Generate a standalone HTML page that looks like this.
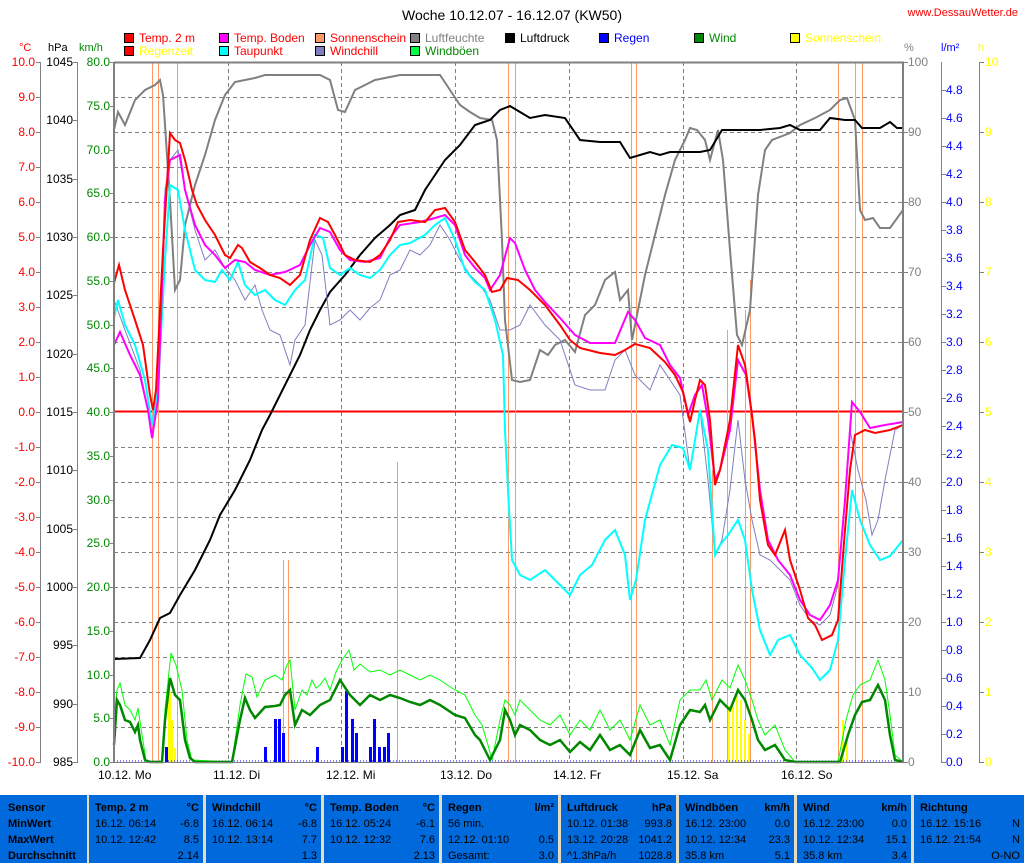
<!DOCTYPE html>
<html><head><meta charset="utf-8"><style>
body{margin:0;width:1024px;height:863px;background:#fff;overflow:hidden;font-family:"Liberation Sans",sans-serif}
svg text{font-family:"Liberation Sans",sans-serif;font-size:12px}
#tbl{position:absolute;left:0;top:795px;width:1024px;height:68px;background:#e8dcc0}
.c{position:absolute;top:0;height:68px;background:#0069dc;font-size:11px;color:#000}
.c div{position:absolute;white-space:nowrap}
.b{font-weight:bold}
</style></head><body>
<svg width="1024" height="795" style="position:absolute;left:0;top:0">
<text x="512" y="20" text-anchor="middle" style="font-size:14px">Woche 10.12.07 - 16.12.07 (KW50)</text>
<text x="1018" y="16" text-anchor="end" fill="#f00" style="font-size:11px">www.DessauWetter.de</text>
<g stroke="#000" stroke-width="1">
<rect x="124.5" y="33.5" width="9" height="9" fill="#f00"/><rect x="124.5" y="46.5" width="9" height="9" fill="#f00"/>
<rect x="219.5" y="33.5" width="9" height="9" fill="#f0f"/><rect x="219.5" y="46.5" width="9" height="9" fill="#0ff"/>
<rect x="315.5" y="33.5" width="9" height="9" fill="#f96"/><rect x="315.5" y="46.5" width="9" height="9" fill="#7f7fbf"/>
<rect x="410.5" y="33.5" width="9" height="9" fill="#808080"/><rect x="410.5" y="46.5" width="9" height="9" fill="#0f4"/>
<rect x="505.5" y="33.5" width="9" height="9" fill="#000"/>
<rect x="599.5" y="33.5" width="9" height="9" fill="#00f"/>
<rect x="694.5" y="33.5" width="9" height="9" fill="#080"/>
<rect x="790.5" y="33.5" width="9" height="9" fill="#ff0"/>
</g>
<g style="font-size:11px">
<text x="139" y="42" fill="#f00">Temp. 2 m</text><text x="139" y="55" fill="#ff0">Regenzeit</text>
<text x="234" y="42" fill="#f00">Temp. Boden</text><text x="234" y="55" fill="#f00">Taupunkt</text>
<text x="330" y="42" fill="#f00">Sonnenschein</text><text x="330" y="55" fill="#f00">Windchill</text>
<text x="425" y="42" fill="#808080">Luftfeuchte</text><text x="425" y="55" fill="#080">Windböen</text>
<text x="520" y="42">Luftdruck</text>
<text x="614" y="42" fill="#00f">Regen</text>
<text x="709" y="42" fill="#080">Wind</text>
<text x="805" y="42" fill="#ff0">Sonnenschein</text>
</g>
<text x="19" y="51" fill="#f00" style="font-size:11px">°C</text>
<text x="48" y="51" style="font-size:11px">hPa</text>
<text x="79" y="51" fill="#080" style="font-size:11px">km/h</text>
<text x="904" y="51" fill="#808080" style="font-size:11px">%</text>
<text x="941" y="51" fill="#00f" style="font-size:11px">l/m²</text>
<text x="978" y="51" fill="#ff0" style="font-size:11px">h</text>
<g stroke="#808080" stroke-width="1">
<line x1="40.5" y1="62" x2="40.5" y2="762"/><line x1="77.5" y1="62" x2="77.5" y2="762"/>
<line x1="941.5" y1="62" x2="941.5" y2="762"/><line x1="979.5" y1="62" x2="979.5" y2="762"/>
</g>
<g id="ax"></g>
<g stroke="#808080" stroke-dasharray="4,3" stroke-width="1">
<path d="M114 97.5H904M114 132.5H904M114 167.5H904M114 202.5H904M114 237.5H904M114 272.5H904M114 307.5H904M114 342.5H904M114 377.5H904M114 447.5H904M114 482.5H904M114 517.5H904M114 552.5H904M114 587.5H904M114 622.5H904M114 657.5H904M114 692.5H904M114 727.5H904"/>
<path d="M228.5 62V762M341.5 62V762M455.5 62V762M569.5 62V762M683.5 62V762M796.5 62V762"/>
</g>
<line x1="114" y1="411.5" x2="904" y2="411.5" stroke="#f00" stroke-width="2"/>
<g stroke="#f96" stroke-width="1" fill="none" shape-rendering="crispEdges">
<path d="M152.5 762V62M158.5 762V62M177.5 762V62M283.5 762V560M288.5 762V560M397.5 762V462M508.5 762V62M515.5 762V62M631.5 762V62M636.5 762V62M712.5 762V470M727.5 762V330M745.5 762V310M750.5 762V280M838.5 762V62M855.5 762V62M862.5 762V62"/>
</g>
<g fill="#00f">
<rect x="165" y="747" width="3" height="15"/><rect x="264" y="747" width="3" height="15"/><rect x="274" y="719" width="3" height="43"/><rect x="278" y="719" width="3" height="43"/><rect x="282" y="733" width="3" height="29"/><rect x="316" y="747" width="3" height="15"/><rect x="341" y="747" width="3" height="15"/><rect x="345" y="691" width="3" height="71"/><rect x="351" y="719" width="3" height="43"/><rect x="355" y="733" width="3" height="29"/><rect x="369" y="747" width="3" height="15"/><rect x="373" y="719" width="3" height="43"/><rect x="378" y="747" width="3" height="15"/><rect x="383" y="747" width="3" height="15"/><rect x="387" y="733" width="3" height="29"/>
</g>
<g fill="#ff0">
<rect x="168" y="692" width="3" height="70"/><rect x="171" y="720" width="2" height="42"/><rect x="174" y="748" width="2" height="14"/>
<rect x="728" y="706" width="2" height="56"/><rect x="732" y="706" width="2" height="56"/><rect x="736" y="692" width="2" height="70"/><rect x="740" y="700" width="2" height="62"/><rect x="744" y="720" width="2" height="42"/><rect x="748" y="734" width="2" height="28"/>
<rect x="842" y="720" width="2" height="42"/><rect x="846" y="740" width="2" height="22"/>
</g>
<line x1="114" y1="761" x2="904" y2="761" stroke="#00f" stroke-dasharray="1,2"/>
<polyline fill="none" stroke="#808080" stroke-width="2" points="114,130 118,112 125,125 135,100 145,90 155,85 160,80 163,95 170,200 175,290 180,280 185,225 195,185 205,155 215,120 225,95 235,82 245,80 255,78 265,75 320,75 330,80 338,110 345,112 355,90 365,85 375,80 400,75 440,75 450,90 460,105 470,112 480,118 492,120 497,140 502,240 505,320 512,380 520,382 530,380 540,350 548,355 555,345 565,340 575,352 585,315 595,305 605,280 615,272 620,300 628,290 632,340 645,275 655,235 665,195 675,160 685,140 690,128 697,130 705,140 710,160 718,130 723,160 730,250 737,335 742,345 750,310 758,195 765,150 772,140 790,133 800,125 815,118 830,110 840,100 847,98 855,120 860,210 865,220 873,218 880,228 890,228 903,210"/>
<polyline fill="none" stroke="#000" stroke-width="2" points="114,659 140,658 150,640 160,618 170,613 180,595 195,570 210,540 220,515 235,490 250,460 262,430 270,415 280,395 290,375 300,355 310,330 320,310 330,292 345,275 360,255 375,238 390,225 400,215 415,210 425,190 435,175 445,160 460,145 475,125 490,120 500,110 510,106 520,112 530,118 545,115 565,118 580,140 600,142 620,142 630,158 640,155 650,152 660,155 670,152 680,152 700,152 710,150 722,130 760,130 780,128 790,125 800,130 820,130 830,118 845,120 855,120 862,128 880,128 890,122 897,128 903,128"/>
<polyline fill="none" stroke="#7f7fbf" stroke-width="1" points="114,300 125,330 140,370 150,420 153,438 160,360 165,190 170,160 178,150 185,190 195,230 205,260 215,250 225,268 235,280 245,300 255,285 262,310 270,330 280,335 290,365 295,340 305,325 315,240 322,255 330,325 340,320 350,310 360,320 370,308 380,300 390,275 400,270 410,250 420,255 430,245 440,225 450,240 460,260 470,275 480,285 490,300 500,330 510,330 520,325 530,305 545,325 560,340 575,385 590,390 605,390 615,360 625,350 635,375 650,390 660,365 670,380 680,395 690,470 700,410 708,480 715,555 722,540 730,490 738,420 745,480 752,520 760,555 770,560 780,570 790,580 800,605 810,620 820,625 830,615 838,585 845,500 850,430 858,470 866,500 872,535 878,520 885,480 895,430 903,425"/>
<polyline fill="none" stroke="#0ff" stroke-width="2" points="114,318 118,300 125,325 135,345 145,380 152,425 158,390 165,260 170,185 178,190 185,230 195,270 205,280 215,282 222,270 230,280 238,262 245,285 255,295 265,290 275,300 285,305 295,290 305,280 315,235 323,238 330,268 340,275 350,268 360,275 370,278 380,270 390,255 400,245 410,243 425,235 435,225 445,218 455,240 465,270 475,282 485,290 495,320 503,355 505,430 508,490 512,560 520,575 530,580 545,570 555,580 570,595 580,575 592,565 605,540 615,530 625,555 630,600 636,580 645,520 660,465 672,445 683,448 690,470 700,410 708,450 715,555 720,545 728,535 738,520 745,540 752,590 760,630 770,655 778,640 790,635 800,655 812,668 820,680 830,670 838,640 845,560 852,490 860,520 870,545 880,560 890,556 903,540"/>
<polyline fill="none" stroke="#f0f" stroke-width="2" points="114,345 120,332 130,355 140,375 148,410 152,438 158,400 165,200 170,160 180,155 185,190 195,225 205,245 215,255 225,268 235,260 245,262 255,270 270,275 285,272 300,265 310,245 320,228 330,232 340,250 350,260 365,262 380,258 390,238 400,225 420,222 435,218 445,215 455,225 465,255 475,268 485,278 490,290 500,275 510,238 515,243 525,270 535,290 545,302 560,318 575,335 590,343 615,343 628,312 635,320 645,338 660,345 670,365 680,378 688,415 695,395 702,385 708,420 715,480 720,470 730,430 738,360 746,375 752,415 760,490 768,540 778,560 790,575 800,600 810,615 820,620 830,605 838,580 845,500 852,402 860,412 870,428 885,425 903,422"/>
<polyline fill="none" stroke="#f00" stroke-width="2" points="114,283 119,265 125,290 135,320 143,345 150,395 153,410 156,390 163,250 170,133 175,140 180,143 185,160 192,190 197,205 205,220 215,235 225,255 230,258 238,245 242,248 250,262 260,268 270,275 280,278 290,285 300,275 310,240 320,218 328,222 335,235 345,255 355,260 370,262 380,255 390,240 398,222 410,220 425,222 435,210 445,208 455,222 465,250 475,262 485,275 492,292 500,290 507,278 518,280 530,290 545,305 560,325 570,340 580,348 600,353 615,355 625,350 635,344 650,348 665,362 675,375 683,392 690,422 695,400 700,380 705,385 710,420 715,485 720,470 730,420 738,345 745,365 750,400 755,440 760,500 768,545 775,555 785,530 790,560 800,590 808,618 815,625 822,640 832,635 838,620 845,530 850,470 855,435 865,430 875,433 890,430 903,425"/>
<polyline fill="none" stroke="#0f0" stroke-width="1" points="114,720 117,690 120,683 125,705 130,710 135,720 138,708 142,735 146,760 150,762 162,762 165,710 171,653 176,665 182,690 187,740 192,760 232,762 240,705 246,674 252,677 257,697 265,680 275,675 282,680 287,665 290,660 295,710 302,690 307,695 312,680 316,688 320,685 325,678 330,690 336,672 342,660 349,650 354,670 360,664 370,672 380,670 390,675 400,670 410,675 420,680 430,675 440,680 455,690 465,695 475,715 482,725 488,745 492,760 500,720 505,700 510,705 515,715 520,700 530,710 540,720 550,725 560,715 570,735 580,720 590,730 600,710 610,730 620,720 630,740 640,705 650,725 660,720 670,745 680,700 690,690 700,690 706,680 712,700 722,680 730,688 738,665 745,680 752,700 758,720 765,735 775,725 785,750 795,762 838,762 846,720 853,695 860,685 870,680 878,660 885,680 890,715 895,755 903,762"/>
<polyline fill="none" stroke="#080" stroke-width="2.5" points="114,745 117,700 120,705 125,720 130,722 135,732 138,725 140,740 145,760 150,762 162,762 165,720 170,678 175,695 180,700 185,740 190,758 195,762 232,762 240,720 245,698 250,710 255,718 265,707 275,706 280,705 285,695 290,690 295,725 302,710 310,715 320,705 330,700 340,680 350,695 360,705 370,695 380,700 390,695 400,698 410,702 420,705 430,700 440,705 455,715 465,718 475,735 480,740 485,750 490,760 500,740 505,710 510,720 515,735 520,725 530,730 540,740 550,745 560,740 570,752 580,742 590,750 600,735 610,750 620,745 630,755 640,730 650,748 660,745 670,760 680,725 690,710 700,712 705,705 710,720 720,700 730,710 738,690 745,700 752,720 758,740 765,750 775,745 785,760 795,762 840,762 848,735 855,715 862,702 870,700 878,685 885,700 890,735 895,760 903,762"/>
<path d="M114 62.5H904M114 62V762M903 62V762" stroke="#808080" stroke-width="2" fill="none"/>
<line x1="114" y1="762.5" x2="904" y2="762.5" stroke="#808080"/>
<g style="font-size:11px">
<text x="98" y="779">10.12.  Mo</text><text x="213" y="779">11.12.  Di</text><text x="326" y="779">12.12.  Mi</text><text x="440" y="779">13.12.  Do</text><text x="553" y="779">14.12.  Fr</text><text x="667" y="779">15.12.  Sa</text><text x="781" y="779">16.12.  So</text>
</g>
</svg>
<script>
(function(){
var ns="http://www.w3.org/2000/svg",g=document.getElementById("ax");
function t(x,y,s,f,a){var e=document.createElementNS(ns,"text");e.setAttribute("x",x);e.setAttribute("y",y);e.setAttribute("fill",f);e.setAttribute("text-anchor",a);e.textContent=s;g.appendChild(e);}
function l(x1,y,x2){var e=document.createElementNS(ns,"line");e.setAttribute("x1",x1);e.setAttribute("x2",x2);e.setAttribute("y1",y+.5);e.setAttribute("y2",y+.5);e.setAttribute("stroke","#808080");g.appendChild(e);}
for(var i=0;i<=20;i++){var y=62+35*i;t(35,y+4,(10-i).toFixed(1),"#f00","end");l(36,y,41);}
for(var i=0;i<=12;i++){var y=Math.round(62+58.333*i);t(73,y+4,1045-5*i,"#000","end");l(73,y,78);}
for(var i=0;i<=16;i++){var y=Math.round(62+43.75*i);t(110,y+4,(80-5*i).toFixed(1),"#080","end");l(110,y,114);}
for(var i=0;i<=10;i++){var y=62+70*i;t(908,y+4,100-10*i,"#808080","start");l(903,y,908);}
for(var i=1;i<=25;i++){var y=62+28*i;t(946,y+4,(5-0.2*i).toFixed(1),"#00f","start");l(941,y,946);}
for(var i=0;i<=10;i++){var y=62+70*i;t(985,y+4,10-i,"#ff0","start");l(979,y,984);}
})();
</script>
<div id="tbl">
<div class="c" style="left:0;width:87px"><div class="b" style="left:8px;top:7px">Sensor</div><div class="b" style="left:8px;top:23px">MinWert</div><div class="b" style="left:8px;top:39px">MaxWert</div><div class="b" style="left:8px;top:55px">Durchschnitt</div></div>
<div class="c" style="left:89px;width:114px"><div class="b" style="left:6px;top:7px">Temp. 2 m</div><div class="b" style="right:4px;top:7px">°C</div><div style="left:6px;top:23px">16.12.  06:14</div><div style="right:4px;top:23px">-6.8</div><div style="left:6px;top:39px">10.12.  12:42</div><div style="right:4px;top:39px">8.5</div><div style="right:4px;top:55px">2.14</div></div>
<div class="c" style="left:206px;width:115px"><div class="b" style="left:6px;top:7px">Windchill</div><div class="b" style="right:4px;top:7px">°C</div><div style="left:6px;top:23px">16.12.  06:14</div><div style="right:4px;top:23px">-6.8</div><div style="left:6px;top:39px">10.12.  13:14</div><div style="right:4px;top:39px">7.7</div><div style="right:4px;top:55px">1.3</div></div>
<div class="c" style="left:324px;width:115px"><div class="b" style="left:6px;top:7px">Temp. Boden</div><div class="b" style="right:4px;top:7px">°C</div><div style="left:6px;top:23px">16.12.  05:24</div><div style="right:4px;top:23px">-6.1</div><div style="left:6px;top:39px">10.12.  12:32</div><div style="right:4px;top:39px">7.6</div><div style="right:4px;top:55px">2.13</div></div>
<div class="c" style="left:442px;width:116px"><div class="b" style="left:6px;top:7px">Regen</div><div class="b" style="right:4px;top:7px">l/m²</div><div style="left:6px;top:23px">56 min.</div><div style="left:6px;top:39px">12.12.  01:10</div><div style="right:4px;top:39px">0.5</div><div style="left:6px;top:55px">Gesamt:</div><div style="right:4px;top:55px">3.0</div></div>
<div class="c" style="left:561px;width:115px"><div class="b" style="left:6px;top:7px">Luftdruck</div><div class="b" style="right:4px;top:7px">hPa</div><div style="left:6px;top:23px">10.12.  01:38</div><div style="right:4px;top:23px">993.8</div><div style="left:6px;top:39px">13.12.  20:28</div><div style="right:4px;top:39px">1041.2</div><div style="left:6px;top:55px">^1.3hPa/h</div><div style="right:4px;top:55px">1028.8</div></div>
<div class="c" style="left:679px;width:115px"><div class="b" style="left:6px;top:7px">Windböen</div><div class="b" style="right:4px;top:7px">km/h</div><div style="left:6px;top:23px">16.12.  23:00</div><div style="right:4px;top:23px">0.0</div><div style="left:6px;top:39px">10.12.  12:34</div><div style="right:4px;top:39px">23.3</div><div style="left:6px;top:55px">35.8 km</div><div style="right:4px;top:55px">5.1</div></div>
<div class="c" style="left:797px;width:114px"><div class="b" style="left:6px;top:7px">Wind</div><div class="b" style="right:4px;top:7px">km/h</div><div style="left:6px;top:23px">16.12.  23:00</div><div style="right:4px;top:23px">0.0</div><div style="left:6px;top:39px">10.12.  12:34</div><div style="right:4px;top:39px">15.1</div><div style="left:6px;top:55px">35.8 km</div><div style="right:4px;top:55px">3.4</div></div>
<div class="c" style="left:914px;width:110px"><div class="b" style="left:6px;top:7px">Richtung</div><div style="left:6px;top:23px">16.12.  15:16</div><div style="right:4px;top:23px">N</div><div style="left:6px;top:39px">16.12.  21:54</div><div style="right:4px;top:39px">N</div><div style="right:4px;top:55px">O-NO</div></div>
</div>
</body></html>
